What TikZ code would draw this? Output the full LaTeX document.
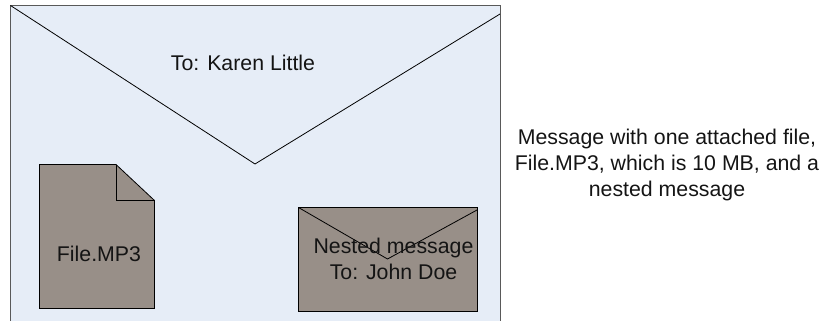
\documentclass[tikz,border=0pt]{standalone}
\usepackage{fontspec}
\setmainfont{Liberation Sans}
\definecolor{envfill}{RGB}{230,237,247}
\definecolor{itemfill}{RGB}{152,143,136}
\definecolor{txt}{RGB}{20,20,20}
\tikzset{
  lbl/.style={font=\fontsize{21.3}{26}\selectfont, text=txt, align=center, inner sep=0pt},
  edge/.style={draw=black, line width=0.8pt, line join=miter},
  outer/.style={draw=black!65, line width=1pt}
}
\begin{document}
\begin{tikzpicture}[x=1pt,y=-1pt]
\useasboundingbox (0,0) rectangle (827,321);
% main envelope
\fill[envfill] (10.5,5.5) rectangle (500,321);
\draw[outer] (10.5,321) -- (10.5,5.5) -- (500,5.5) -- (500,321);
\coordinate (envL) at (10.5,5.5);
\coordinate (envM) at (255,164);
\coordinate (envR) at (500,14);
\draw[edge] (envL) -- (envM) -- (envR);
\node[lbl] (karen) at (243,63) {To: Karen Little};
% file
\coordinate (fA) at (39.5,164.5);
\coordinate (fB) at (116,164.5);
\coordinate (fC) at (154.5,200.5);
\coordinate (fD) at (154.5,308.5);
\coordinate (fE) at (39.5,308.5);
\coordinate (fF) at (116,200.5);
\draw[edge,fill=itemfill] (fA) -- (fB) -- (fC) -- (fD) -- (fE) -- cycle;
\draw[edge] (fB) -- (fF) -- (fC);
\node[lbl] (file) at (99,254) {File.MP3};
% nested
\draw[edge,fill=itemfill] (298.5,207.5) rectangle (477,311);
\coordinate (nL) at (298.5,207.5);
\coordinate (nM) at (387.5,259);
\coordinate (nR) at (477,210);
\draw[edge] (nL) -- (nM) -- (nR);
\node[lbl] (nested) at (393.5,258.5) {Nested message\\To: John Doe};
% caption
\node[lbl] (cap) at (667,164.5) {Message with one attached file,\\File.MP3, which is 10 MB, and a\\nested message};
\end{tikzpicture}
\end{document}
